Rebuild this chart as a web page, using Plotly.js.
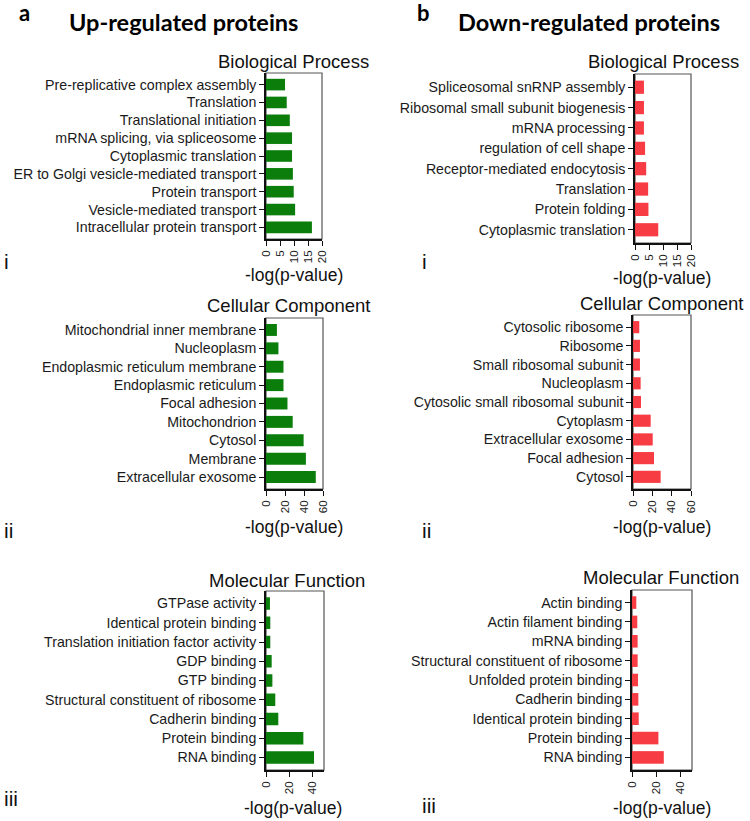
<!DOCTYPE html>
<html>
<head>
<meta charset="utf-8">
<script src="https://cdn.plot.ly/plotly-3.0.1.min.js"></script>
<style>
html,body{margin:0;padding:0;background:#fff;}
#chart{width:750px;height:821px;}
</style>
</head>
<body>
<div id="chart"></div>
<script>
// ---------- DATA ----------
// a) Up-regulated proteins
const upBPLabels = ["Pre-replicative complex assembly","Translation","Translational initiation","mRNA splicing, via spliceosome","Cytoplasmic translation","ER to Golgi vesicle-mediated transport","Protein transport","Vesicle-mediated transport","Intracellular protein transport"];
const upBPValues = [6.8, 7.4, 8.5, 9.3, 9.3, 9.6, 9.9, 10.4, 16.4];

const upCCLabels = ["Mitochondrial inner membrane","Nucleoplasm","Endoplasmic reticulum membrane","Endoplasmic reticulum","Focal adhesion","Mitochondrion","Cytosol","Membrane","Extracellular exosome"];
const upCCValues = [11.5, 13.1, 18.4, 18.4, 22.6, 28.1, 39.6, 42.0, 52.4];

const upMFLabels = ["GTPase activity","Identical protein binding","Translation initiation factor activity","GDP binding","GTP binding","Structural constituent of ribosome","Cadherin binding","Protein binding","RNA binding"];
const upMFValues = [3.4, 3.7, 3.7, 4.9, 5.5, 8.0, 10.6, 32.2, 41.4];

// b) Down-regulated proteins
const downBPLabels = ["Spliceosomal snRNP assembly","Ribosomal small subunit biogenesis","mRNA processing","regulation of cell shape","Receptor-mediated endocytosis","Translation","Protein folding","Cytoplasmic translation"];
const downBPValues = [3.2, 3.2, 3.2, 3.6, 4.0, 4.7, 4.8, 8.3];

const downCCLabels = ["Cytosolic ribosome","Ribosome","Small ribosomal subunit","Nucleoplasm","Cytosolic small ribosomal subunit","Cytoplasm","Extracellular exosome","Focal adhesion","Cytosol"];
const downCCValues = [6.5, 7.2, 7.2, 7.9, 8.3, 18.3, 20.4, 21.7, 28.6];

const downMFLabels = ["Actin binding","Actin filament binding","mRNA binding","Structural constituent of ribosome","Unfolded protein binding","Cadherin binding","Identical protein binding","Protein binding","RNA binding"];
const downMFValues = [3.6, 4.4, 4.7, 4.7, 5.0, 5.3, 5.6, 22.0, 26.5];

// axis ticks
const ticksBP = [0, 5, 10, 15, 20];
const ticksCC = [0, 20, 40, 60];
const ticksMF = [0, 20, 40];

const panelTitles = ["Biological Process", "Cellular Component", "Molecular Function"];
const xAxisTitle = "-log(p-value)";
const romans = ["i", "ii", "iii"];
const headers = ["Up-regulated proteins", "Down-regulated proteins"];
const letters = ["a", "b"];

// ---------- LAYOUT CONFIG ----------
const W = 750, H = 821;
const GREEN = "#0a7d0a", RED = "#f83c44";
const FONT = "Liberation Sans, Arial, sans-serif";

const panels = [
  {labels: upBPLabels, values: upBPValues, color: GREEN, range: [0,20], ticks: ticksBP, box: [266,322,73,239], title: 0, tpos: [293,62], xtpos: [294,275]},
  {labels: upCCLabels, values: upCCValues, color: GREEN, range: [0,60], ticks: ticksCC, box: [266,323,318,489], title: 1, tpos: [289,305], xtpos: [294,527]},
  {labels: upMFLabels, values: upMFValues, color: GREEN, range: [0,50], ticks: ticksMF, box: [266,324,591,770], title: 2, tpos: [287,580], xtpos: [293,808]},
  {labels: downBPLabels, values: downBPValues, color: RED, range: [0,20], ticks: ticksBP, box: [635,691,74,243], title: 0, tpos: [663,62], xtpos: [662,278]},
  {labels: downCCLabels, values: downCCValues, color: RED, range: [0,60], ticks: ticksCC, box: [633,691,315,489], title: 1, tpos: [662,303], xtpos: [662,527]},
  {labels: downMFLabels, values: downMFValues, color: RED, range: [0,50], ticks: ticksMF, box: [632,692,590,770], title: 2, tpos: [661,577], xtpos: [662,808]}
];

const px = x => x / W;
const py = y => 1 - y / H;

const data = [];
const layout = {
  width: W, height: H,
  margin: {l:0, r:0, t:0, b:0},
  paper_bgcolor: "#fff", plot_bgcolor: "#fff",
  showlegend: false,
  bargap: 0.35,
  font: {family: FONT, color: "#1a1a1a"},
  annotations: [], shapes: []
};

panels.forEach((p, i) => {
  const n = i + 1;
  const xa = n === 1 ? "x" : "x" + n;
  const ya = n === 1 ? "y" : "y" + n;
  data.push({
    type: "bar", orientation: "h",
    x: p.values, y: p.labels,
    xaxis: xa, yaxis: ya,
    marker: {color: p.color, line: {width: 0}},
    hoverinfo: "x+y"
  });
  const [x0, x1, y0, y1] = p.box;
  const N = p.labels.length;
  layout["xaxis" + (n === 1 ? "" : n)] = {
    domain: [px(x0), px(x1)], anchor: ya,
    range: p.range, tickvals: p.ticks, ticktext: p.ticks.map(String),
    tickangle: -90, ticks: "outside", ticklen: 5, tickwidth: 1.3, tickcolor: "#111",
    showline: true, linecolor: "#111", linewidth: 1.5,
    showgrid: false, zeroline: false, fixedrange: true,
    tickfont: {family: FONT, size: 11.5, color: "#1a1a1a"}
  };
  layout["yaxis" + (n === 1 ? "" : n)] = {
    domain: [py(y1), py(y0)], anchor: xa,
    type: "category", categoryorder: "array", categoryarray: p.labels,
    range: [N - 0.35, -0.65],
    ticks: "outside", ticklen: 5, tickwidth: 1.3, tickcolor: "#111",
    showline: true, linecolor: "#111", linewidth: 1.5,
    showgrid: false, zeroline: false, fixedrange: true,
    tickfont: {family: FONT, size: 14.2, color: "#1a1a1a"}
  };
  // grey frame (top/right)
  layout.shapes.push({type: "rect", xref: "paper", yref: "paper",
    x0: px(x0), x1: px(x1), y0: py(y1), y1: py(y0),
    line: {color: "#555", width: 1.2}, layer: "below"});
  // panel title
  layout.annotations.push({text: panelTitles[p.title], xref: "paper", yref: "paper",
    x: px(p.tpos[0]), y: py(p.tpos[1]), xanchor: "center", yanchor: "middle", showarrow: false,
    font: {family: FONT, size: 18.5, color: "#111"}});
  // x-axis title
  layout.annotations.push({text: xAxisTitle, xref: "paper", yref: "paper",
    x: px(p.xtpos[0]), y: py(p.xtpos[1]), xanchor: "center", yanchor: "middle", showarrow: false,
    font: {family: FONT, size: 17.5, color: "#111"}});
});

// roman numerals
const romanPos = [[2,262],[2,530],[2,798],[420,262],[420,530],[420,805]];
romanPos.forEach((pos, k) => {
  layout.annotations.push({text: romans[k % 3], xref: "paper", yref: "paper",
    x: px(pos[0]), y: py(pos[1]), xanchor: "left", yanchor: "middle", showarrow: false,
    font: {family: FONT, size: 21, color: "#111"}});
});

// headers
const letterPos = [[17,13],[415,13]];
const headerPos = [[183,22],[589,22]];
[0,1].forEach(k => {
  layout.annotations.push({text: "<b>" + letters[k] + "</b>", xref: "paper", yref: "paper",
    x: px(letterPos[k][0]), y: py(letterPos[k][1]), xanchor: "left", yanchor: "middle", showarrow: false,
    font: {family: "Lato, Open Sans, sans-serif", size: 22, color: "#000"}});
  layout.annotations.push({text: "<b>" + headers[k] + "</b>", xref: "paper", yref: "paper",
    x: px(headerPos[k][0]), y: py(headerPos[k][1]), xanchor: "center", yanchor: "middle", showarrow: false,
    font: {family: "Lato, Open Sans, sans-serif", size: 23.5, color: "#000"}});
});

Plotly.newPlot("chart", data, layout, {displayModeBar: false, staticPlot: false});
</script>
</body>
</html>
